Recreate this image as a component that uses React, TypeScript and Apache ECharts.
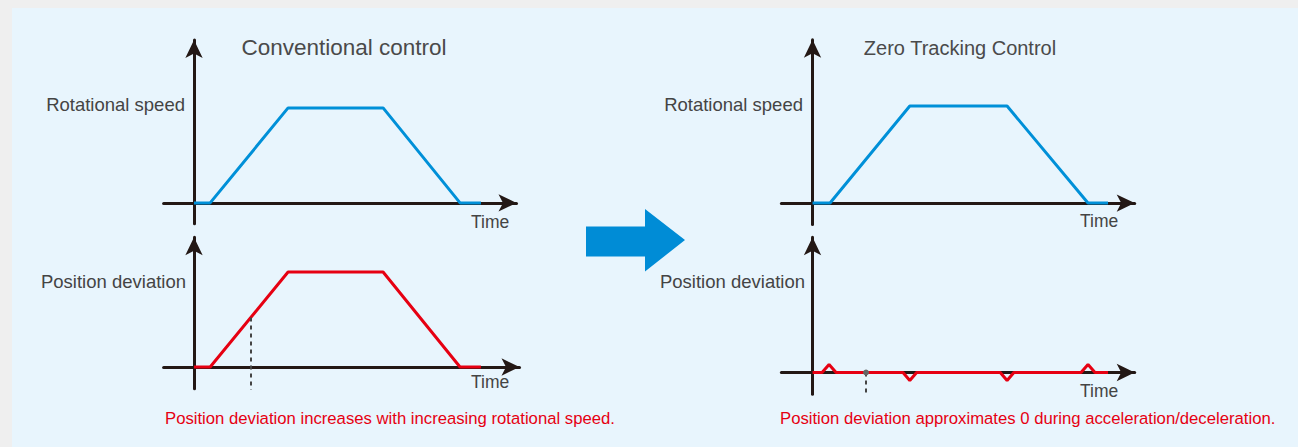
import React, { useEffect, useRef } from "react";
import * as echarts from "echarts";

// Time positions (relative units) and values for each curve
const speedConvT = [0, 0.85, 4.95, 9.95, 14, 15.1];
const speedConvV = [0, 0, 1, 1, 0, 0];
const devConvT = [0, 0.85, 4.95, 9.95, 14, 15.1];
const devConvV = [0, 0, 1, 1, 0, 0];
const speedZeroT = [0, 0.9, 5, 10, 14.16, 15.19];
const speedZeroV = [0, 0, 1, 1, 0, 0];
const devZeroT = [0, 0.49, 0.85, 1.21, 4.65, 5, 5.35, 9.65, 10, 10.35, 13.8, 14.16, 14.52, 15.19];
const devZeroV = [0, 0, 0.085, 0, 0, -0.085, 0, 0, -0.085, 0, 0, 0.085, 0, 0];
const markConvT = [3, 3];
const markConvV = [0.52, -0.4];
const markZeroT = [2.75, 2.75];
const markZeroV = [0, -0.33];

const titles = ["Conventional control", "Zero Tracking Control"];
const yLabels = ["Rotational speed", "Position deviation"];
const xLabel = "Time";
const notes = [
  "Position deviation increases with increasing rotational speed.",
  "Position deviation approximates 0 during acceleration/deceleration.",
];

const FONT = "'Liberation Sans', Arial, sans-serif";
const AXIS_COLOR = "#231815";
const BLUE = "#0090d8";
const RED = "#e60012";
const GREY_TEXT = "#444444";

const zip = (a: number[], b: number[]) => a.map((v, i) => [v, b[i]]);

export default function App() {
  const ref = useRef<HTMLDivElement>(null);
  useEffect(() => {
    if (!ref.current) return;
    const chart = echarts.init(ref.current, undefined, { renderer: "svg" });

    const grids = [
      { left: 163.6, top: 40, width: 352.9, height: 183.8 },
      { left: 163.6, top: 237.35, width: 355.9, height: 151.5 },
      { left: 781.4, top: 39.8, width: 353.3, height: 184.6 },
      { left: 781.4, top: 237.15, width: 353.3, height: 157.2 },
    ];
    const xr = [
      [-1.6, 16.97],
      [-1.6, 17.13],
      [-1.6, 16.56],
      [-1.6, 16.56],
    ];
    const yr = [
      [-0.22, 1.715],
      [-0.23, 1.365],
      [-0.22, 1.683],
      [-0.23, 1.425],
    ];
    const axisLine = {
      show: true,
      onZero: true,
      symbol: ["none", "arrow"],
      symbolSize: [13, 18],
      lineStyle: { color: AXIS_COLOR, width: 3 },
    };
    const baseAxis = {
      type: "value",
      axisLine,
      axisTick: { show: false },
      axisLabel: { show: false },
      splitLine: { show: false },
    };
    const xAxis = xr.map((r, i) => ({ ...baseAxis, gridIndex: i, min: r[0], max: r[1] }));
    const yAxis = yr.map((r, i) => ({ ...baseAxis, gridIndex: i, min: r[0], max: r[1] }));

    const lineSeries = (data: number[][], idx: number, color: string) => ({
      type: "line",
      xAxisIndex: idx,
      yAxisIndex: idx,
      data,
      showSymbol: false,
      symbol: "none",
      lineStyle: { color, width: 3 },
      silent: true,
      z: 3,
    });
    const dashSeries = (data: number[][], idx: number, dot: boolean) => ({
      type: "line",
      xAxisIndex: idx,
      yAxisIndex: idx,
      data: data.map((d, i) =>
        i === 0 && dot
          ? { value: d, symbol: "circle", symbolSize: 6, itemStyle: { color: "#666" } }
          : { value: d, symbol: "none" }
      ),
      showSymbol: true,
      symbol: "none",
      lineStyle: { color: "#444", width: 2, type: [4, 4] },
      silent: true,
      z: 4,
    });

    const text = (
      t: string,
      x: number,
      y: number,
      size: number,
      fill: string,
      align: string = "left"
    ) => ({
      type: "text",
      x,
      y,
      silent: true,
      z: 10,
      style: {
        text: t,
        fill,
        font: `${size}px ${FONT}`,
        textAlign: align,
        textVerticalAlign: "middle",
      },
    });

    chart.setOption({
      animation: false,
      backgroundColor: "#efefef",
      grid: grids,
      xAxis,
      yAxis,
      series: [
        lineSeries(zip(speedConvT, speedConvV), 0, BLUE),
        lineSeries(zip(devConvT, devConvV), 1, RED),
        lineSeries(zip(speedZeroT, speedZeroV), 2, BLUE),
        lineSeries(zip(devZeroT, devZeroV), 3, RED),
        dashSeries(zip(markConvT, markConvV), 1, false),
        dashSeries(zip(markZeroT, markZeroV), 3, true),
      ],
      graphic: [
        {
          type: "rect",
          z: -10,
          silent: true,
          shape: { x: 12, y: 8, width: 1286, height: 439 },
          style: { fill: "#e8f5fd" },
        },
        {
          type: "polygon",
          silent: true,
          z: 5,
          shape: {
            points: [
              [586, 226.5],
              [645, 226.5],
              [645, 209],
              [685, 240],
              [645, 271.5],
              [645, 256.5],
              [586, 256.5],
            ],
          },
          style: { fill: "#008cd6" },
        },
        text(titles[0], 344, 47, 22.5, "#4a4a4a", "center"),
        text(titles[1], 960, 48, 20, "#4a4a4a", "center"),
        text(yLabels[0], 185, 104, 18.5, GREY_TEXT, "right"),
        text(yLabels[1], 186, 281, 18.5, GREY_TEXT, "right"),
        text(yLabels[0], 803, 104, 18.5, GREY_TEXT, "right"),
        text(yLabels[1], 805, 281, 18.5, GREY_TEXT, "right"),
        text(xLabel, 471, 222, 17.5, GREY_TEXT),
        text(xLabel, 471, 382, 17.5, GREY_TEXT),
        text(xLabel, 1080, 221, 17.5, GREY_TEXT),
        text(xLabel, 1080, 391, 17.5, GREY_TEXT),
        text(notes[0], 165, 418, 16.7, RED),
        text(notes[1], 780, 418, 16.7, RED),
      ],
    });
    return () => chart.dispose();
  }, []);
  return (
    <div
      ref={ref}
      style={{ position: "absolute", left: 0, top: 0, width: 1298, height: 447 }}
    />
  );
}
